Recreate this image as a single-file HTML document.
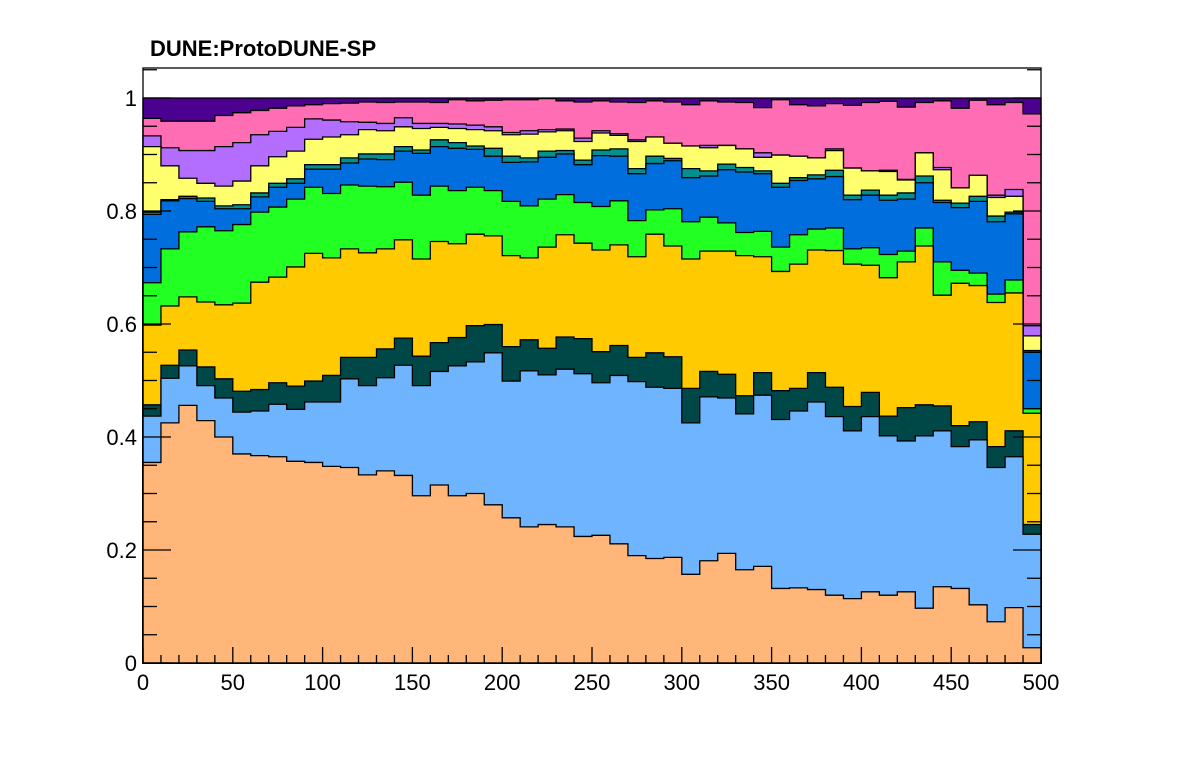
<!DOCTYPE html>
<html><head><meta charset="utf-8"><style>
body{margin:0;background:#fff;}
svg{display:block;font-family:"Liberation Sans",sans-serif;}
</style></head><body>
<svg id="chart" width="1196" height="772">
<text x="150" y="56" font-size="22" font-weight="bold">DUNE:ProtoDUNE-SP</text>
<g id="layers"></g>
<g id="axes"></g>
</svg>
<script>
const binEdges = [0,500];
const nBins = 50;
const layerNames = ["orange","light-blue","dark-teal","gold","green","blue","teal","yellow","purple","pink","dark-purple"];
const layerColors = ["#ffb678","#6eb4ff","#004848","#ffcb00","#22ff22","#006edc","#009090","#ffff6e","#b46eff","#ff6eb4","#4b0090"];
const orangeTop = [0.355,0.425,0.456,0.429,0.40,0.370,0.367,0.365,0.357,0.355,0.348,0.346,0.333,0.340,0.332,0.296,0.315,0.296,0.300,0.280,0.257,0.241,0.245,0.241,0.224,0.226,0.211,0.190,0.185,0.187,0.157,0.181,0.194,0.165,0.171,0.132,0.133,0.130,0.120,0.114,0.126,0.120,0.126,0.097,0.135,0.132,0.103,0.073,0.098,0.027];
const lightBlueTop = [0.437,0.504,0.526,0.491,0.469,0.444,0.446,0.458,0.449,0.462,0.462,0.503,0.491,0.505,0.527,0.491,0.516,0.526,0.533,0.549,0.499,0.517,0.510,0.520,0.512,0.496,0.509,0.498,0.488,0.486,0.425,0.471,0.469,0.441,0.474,0.431,0.446,0.462,0.436,0.411,0.436,0.402,0.393,0.402,0.411,0.383,0.395,0.346,0.365,0.228];
const darkTealTop = [0.457,0.527,0.554,0.524,0.503,0.481,0.484,0.496,0.490,0.499,0.509,0.541,0.541,0.556,0.575,0.543,0.567,0.576,0.597,0.599,0.560,0.572,0.557,0.577,0.574,0.551,0.562,0.541,0.549,0.542,0.486,0.516,0.511,0.473,0.514,0.482,0.486,0.514,0.488,0.454,0.479,0.437,0.452,0.457,0.455,0.420,0.427,0.383,0.411,0.245];
const goldTop = [0.598,0.632,0.648,0.639,0.634,0.637,0.674,0.683,0.701,0.725,0.717,0.733,0.726,0.733,0.749,0.715,0.746,0.742,0.759,0.756,0.721,0.717,0.736,0.758,0.743,0.731,0.740,0.719,0.759,0.738,0.715,0.729,0.729,0.721,0.719,0.693,0.706,0.731,0.730,0.706,0.704,0.682,0.710,0.738,0.651,0.672,0.668,0.638,0.655,0.442];
const greenTop = [0.673,0.733,0.763,0.772,0.765,0.776,0.798,0.807,0.821,0.842,0.831,0.846,0.844,0.843,0.851,0.828,0.844,0.836,0.842,0.836,0.817,0.809,0.821,0.829,0.815,0.808,0.818,0.783,0.802,0.804,0.781,0.789,0.779,0.762,0.764,0.736,0.758,0.768,0.770,0.733,0.735,0.723,0.729,0.770,0.710,0.695,0.690,0.653,0.678,0.450];
const blueTop = [0.794,0.818,0.822,0.817,0.804,0.804,0.825,0.842,0.849,0.874,0.874,0.885,0.892,0.891,0.906,0.902,0.914,0.911,0.909,0.897,0.886,0.887,0.895,0.901,0.882,0.898,0.897,0.866,0.884,0.889,0.859,0.862,0.873,0.869,0.866,0.842,0.854,0.857,0.861,0.820,0.828,0.819,0.821,0.850,0.815,0.806,0.817,0.781,0.795,0.550];
const tealTop = [0.798,0.820,0.826,0.823,0.809,0.811,0.832,0.849,0.857,0.882,0.882,0.894,0.901,0.901,0.914,0.908,0.926,0.921,0.915,0.911,0.897,0.894,0.906,0.907,0.890,0.908,0.910,0.875,0.897,0.893,0.875,0.871,0.883,0.877,0.871,0.849,0.859,0.864,0.872,0.828,0.837,0.828,0.832,0.862,0.819,0.814,0.826,0.791,0.798,0.553];
const yellowTop = [0.914,0.880,0.858,0.849,0.844,0.853,0.880,0.896,0.906,0.927,0.931,0.935,0.944,0.942,0.949,0.946,0.948,0.946,0.944,0.942,0.935,0.936,0.940,0.942,0.923,0.938,0.934,0.923,0.931,0.920,0.915,0.912,0.916,0.910,0.895,0.899,0.897,0.894,0.907,0.876,0.871,0.870,0.855,0.903,0.873,0.841,0.863,0.824,0.826,0.579];
const purpleTop = [0.933,0.912,0.907,0.907,0.914,0.921,0.935,0.941,0.948,0.963,0.961,0.958,0.957,0.955,0.965,0.955,0.955,0.954,0.952,0.949,0.939,0.942,0.944,0.945,0.929,0.942,0.937,0.926,0.931,0.920,0.915,0.916,0.916,0.910,0.903,0.899,0.897,0.894,0.910,0.876,0.871,0.872,0.856,0.903,0.877,0.841,0.863,0.828,0.838,0.597];
const pinkTop = [0.964,0.959,0.959,0.959,0.969,0.974,0.978,0.982,0.986,0.988,0.990,0.991,0.993,0.992,0.993,0.993,0.992,0.997,0.995,0.996,0.997,0.997,0.999,0.995,0.993,0.995,0.993,0.992,0.995,0.993,0.988,0.995,0.993,0.992,0.983,0.997,0.988,0.986,0.990,0.987,0.992,0.994,0.984,0.992,0.995,0.982,0.996,0.988,0.992,0.972];
const darkPurpleTop = new Array(50).fill(1.0);
const layerTops = [orangeTop,lightBlueTop,darkTealTop,goldTop,greenTop,blueTop,tealTop,yellowTop,purpleTop,pinkTop,darkPurpleTop];
const xTicks = [0,50,100,150,200,250,300,350,400,450,500];
const yTicks = [0,0.2,0.4,0.6,0.8,1];
const yTickLabels = ["0","0.2","0.4","0.6","0.8","1"];

const L=143,R=1041,T=68,B=663,YMAX=(B-T)/565;
const xs=v=>L+(v-binEdges[0])/(binEdges[1]-binEdges[0])*(R-L);
const ys=v=>B-v/YMAX*(B-T);
const NS="http://www.w3.org/2000/svg";
const lg=document.getElementById('layers');
const bw=(binEdges[1]-binEdges[0])/nBins;
for(let li=layerTops.length-1;li>=0;li--){
  const tops=layerTops[li];
  let d=`M${xs(0)},${ys(0)}`;
  for(let i=0;i<nBins;i++){
    d+=` L${xs(i*bw).toFixed(2)},${ys(tops[i]).toFixed(2)} L${xs((i+1)*bw).toFixed(2)},${ys(tops[i]).toFixed(2)}`;
  }
  d+=` L${xs(binEdges[1])},${ys(0)} Z`;
  const p=document.createElementNS(NS,'path');
  p.setAttribute('d',d);p.setAttribute('fill',layerColors[li]);
  p.setAttribute('stroke','#000');p.setAttribute('stroke-width','1.3');
  
  
  lg.appendChild(p);
}
const ax=document.getElementById('axes');
function line(x1,y1,x2,y2,name){
  const l=document.createElementNS(NS,'line');
  l.setAttribute('x1',x1);l.setAttribute('y1',y1);l.setAttribute('x2',x2);l.setAttribute('y2',y2);
  l.setAttribute('stroke','#000');l.setAttribute('stroke-width','1.3');
  
  
  ax.appendChild(l);
}
function text(x,y,s,anchor,name){
  const t=document.createElementNS(NS,'text');
  t.setAttribute('x',x);t.setAttribute('y',y);t.setAttribute('font-size','22');
  t.setAttribute('text-anchor',anchor);t.textContent=s;
  
  
  ax.appendChild(t);
}
const fr=document.createElementNS(NS,'rect');
fr.setAttribute('x',L);fr.setAttribute('y',T);fr.setAttribute('width',R-L);fr.setAttribute('height',B-T);
fr.setAttribute('fill','none');fr.setAttribute('stroke','#000');fr.setAttribute('stroke-width','1.3');


ax.appendChild(fr);
for(let v=0;v<=500;v+=10){
  const len=(v%50===0)?16:8;
  line(xs(v),B,xs(v),B-len,'x-tick');
}
for(let k=0;k<=21;k++){
  const v=k*0.05; if(v>YMAX) break;
  const len=(k%4===0)?28:14;
  line(L,ys(v),L+len,ys(v),'y-tick');
  line(R,ys(v),R-len,ys(v),'y-tick-right');
}
xTicks.forEach(v=>text(xs(v),ys(0)+27,String(v),'middle','x-tick-label'));
yTicks.forEach((v,i)=>text(L-6,ys(v)+8,yTickLabels[i],'end','y-tick-label'));
</script>
</body></html>
